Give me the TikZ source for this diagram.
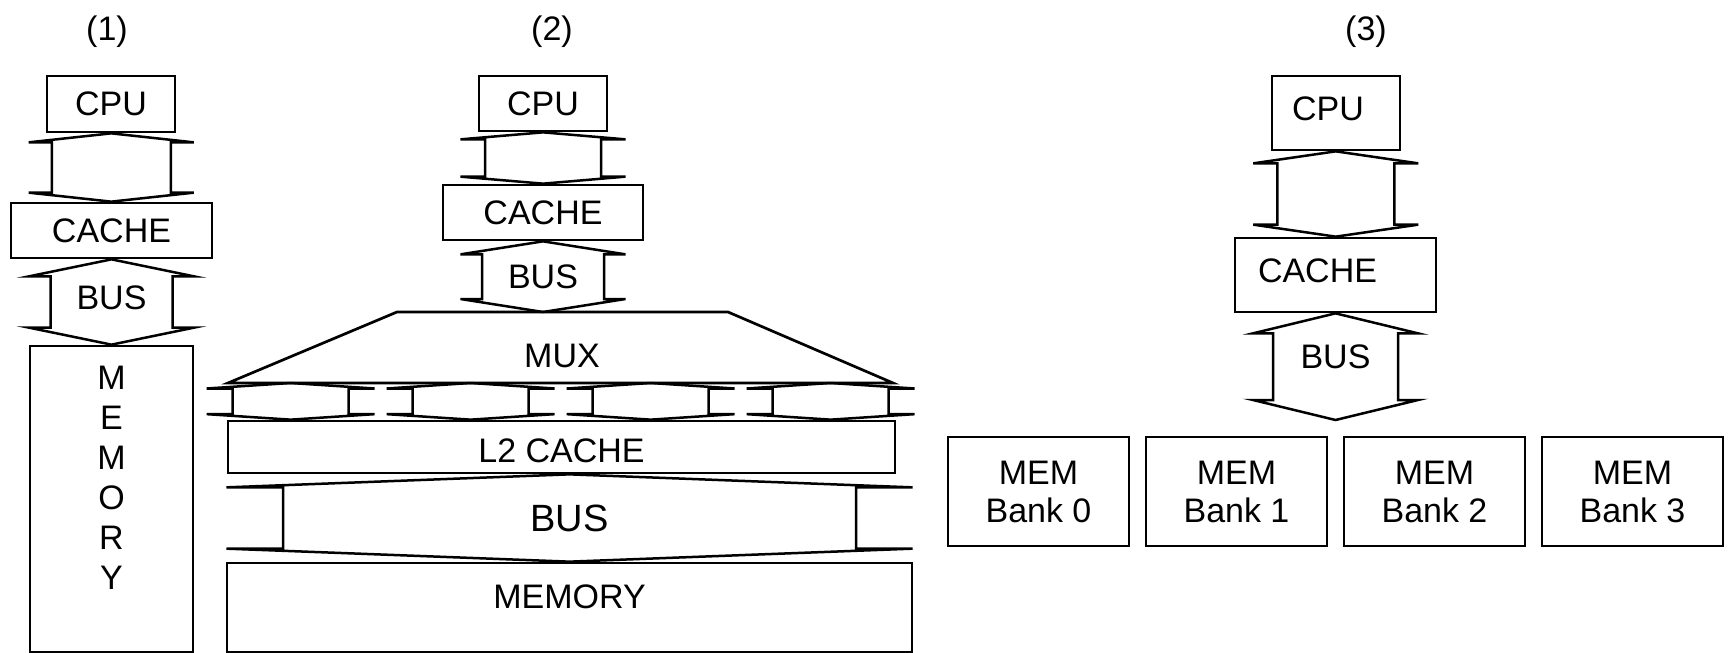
\documentclass[tikz,border=0pt]{standalone}
\usepackage{fontspec}
\setmainfont{Liberation Sans}
\usetikzlibrary{positioning,calc}

\tikzset{
  box/.style={draw, line width=2.7pt, inner sep=0pt, font=\fontsize{34}{38}\selectfont},
  lbl/.style={inner sep=0pt, font=\fontsize{34}{40}\selectfont},
  busline/.style={draw, line width=2.5pt, fill=white, line join=miter},
}

% [#1 label options] #2 upper end, #3 lower end, #4 half shaft, #5 half head, #6 head height, #7 text
\newcommand{\busconn}[7][]{%
  \draw[busline] let \p1=(#2), \p2=(#3), \p3=($(#2)!0.5!(#3)$) in
    (\x3,\y1) -- ({\x3+#5pt},{\y1-#6pt}) -- ({\x3+#4pt},{\y1-#6pt})
    -- ({\x3+#4pt},{\y2+#6pt}) -- ({\x3+#5pt},{\y2+#6pt}) -- (\x3,\y2)
    -- ({\x3-#5pt},{\y2+#6pt}) -- ({\x3-#4pt},{\y2+#6pt})
    -- ({\x3-#4pt},{\y1-#6pt}) -- ({\x3-#5pt},{\y1-#6pt}) -- cycle
    (\p3) node[lbl,#1] {#7};}

\begin{document}
\begin{tikzpicture}[x=1pt,y=-1pt]
	\useasboundingbox (0,0) rectangle (1729,653);
	
	\node[lbl] (t1) at (107,32) {(1)};
	\node[lbl] (t2) at (552,32) {(2)};
	\node[lbl] (t3) at (1366,32) {(3)};
	
	% (1)
	\node[box, minimum width=128, minimum height=56] (cpuA) at (111,104) {CPU};
	\node[box, minimum width=201, minimum height=55] (cacheA) at (111.5,230.5) {CACHE};
	\node[box, minimum width=163, minimum height=306] (memA) at (111.5,499) {};
	\node[lbl, align=center, below=21pt of memA.north] (memAtxt) {M\\E\\M\\O\\R\\Y};
	
	\busconn{cpuA.south}{cacheA.north}{59.5}{82.5}{9}{}
	\busconn[yshift=4pt]{cacheA.south}{memA.north}{61}{82.5}{17}{BUS}
	
	% (2)
	\node[box, minimum width=128, minimum height=55] (cpuB) at (543,103.5) {CPU};
	\node[box, minimum width=200, minimum height=55] (cacheB) at (543,212.5) {CACHE};
	\node[box, minimum width=667, minimum height=52] (l2) at (561.5,447) {};
	\node[lbl, yshift=-4pt] (l2txt) at (l2.center) {L2 CACHE};
	\node[box, minimum width=685, minimum height=89] (memB) at (569.5,607.5) {};
	\node[lbl, yshift=11pt] (memBtxt) at (memB.center) {MEMORY};
	
	\coordinate (muxnw) at (397,312);
	\coordinate (muxne) at (728,312);
	\coordinate (muxse) at (893,383);
	\coordinate (muxsw) at (228,383);
	
	\busconn{cpuB.south}{cacheB.north}{58}{82.5}{7}{}
	\busconn{cacheB.south}{cacheB.south |- muxnw}{61}{82.5}{13}{BUS}
	
	\foreach \dx [count=\k] in {64,244,424,604}{
		\coordinate (rb\k) at ([xshift=\dx pt]l2.north west);
		\coordinate (rt\k) at (rb\k |- muxsw);
		\busconn{rt\k}{rb\k}{58}{84}{5.5}{}
	}
	
	\draw[line width=2.7pt] (muxnw) -- (muxne) -- (muxse) -- (muxsw) -- cycle;
	\node[lbl] (mux) at (562,356) {MUX};
	
	\busconn{l2.south -| memB.north}{memB.north}{286.5}{343}{13}{\fontsize{38}{44}\selectfont BUS}
	
	% (3)
	\node[box, minimum width=128, minimum height=74] (cpuC) at (1336,113) {};
	\node[lbl, xshift=-8pt, yshift=4pt] (cpuCtxt) at (cpuC.center) {CPU};
	\node[box, minimum width=201, minimum height=74] (cacheC) at (1335.5,275) {};
	\node[lbl, xshift=-18pt, yshift=4pt] (cacheCtxt) at (cacheC.center) {CACHE};
	\coordinate (busCend) at (1335.5,420);
	
	\foreach \i in {0,...,3}
		\node[box, align=center, minimum width=181, minimum height=109] (bank\i) at ({1038.5+198*\i},491.5) {MEM\\Bank \i};
	
	\busconn{cpuC.south}{cacheC.north}{58.5}{82.5}{12}{}
	\busconn[yshift=10pt]{cacheC.south}{busCend}{62.5}{82.5}{20}{BUS}
\end{tikzpicture}
\end{document}
